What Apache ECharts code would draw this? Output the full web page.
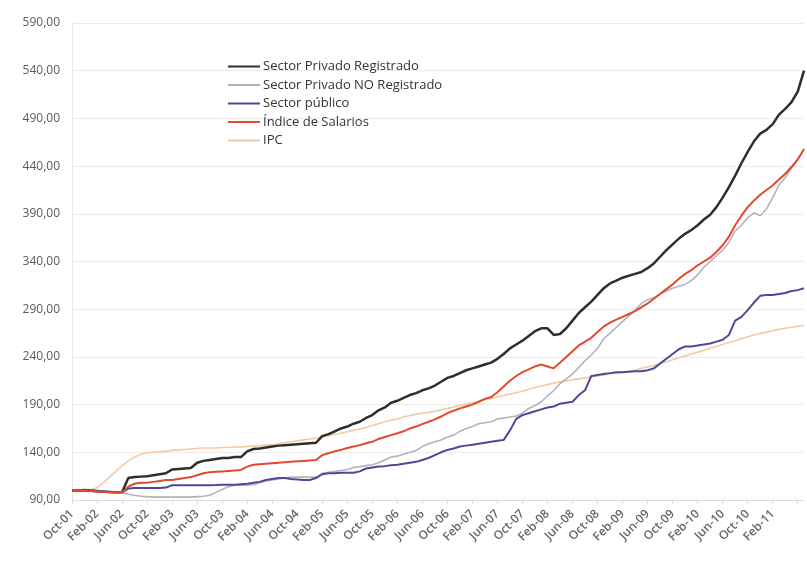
<!DOCTYPE html>
<html>
<head>
<meta charset="utf-8">
<script src="https://cdn.jsdelivr.net/npm/echarts@6/dist/echarts.min.js"></script>
<style>
  html, body { margin: 0; padding: 0; background: #fff; }
  #chart { width: 807px; height: 561px; }
</style>
</head>
<body>
<div id="chart"></div>
<script>
// meses Oct-01 .. Jul-11
const monthNames = ['Jan', 'Feb', 'Mar', 'Apr', 'May', 'Jun', 'Jul', 'Aug', 'Sep', 'Oct', 'Nov', 'Dec'];
const categories = [];
for (let k = 0; k < 118; k++) {
  const m = (9 + k) % 12;
  const y = 1 + Math.floor((9 + k) / 12);
  categories.push(`${monthNames[m]}-${String(y).padStart(2, '0')}`);
}
const lastLabel = 'Feb-11';

const yTicks = [90, 140, 190, 240, 290, 340, 390, 440, 490, 540, 590];

const privadoRegistrado = [
  100, 100, 100.5, 100, 99.5, 99, 98.5, 98, 98, 113,
  114, 114.5, 115, 116, 117, 118, 122, 122.5, 123, 123.5,
  129, 131, 132, 133, 134, 134, 135, 135, 141, 143.5,
  144, 145, 146, 147, 147.5, 148, 148.5, 149, 149.5, 150,
  157, 159, 162, 165, 167, 170, 172, 176, 179, 184,
  187, 192, 194, 197, 200, 202, 205, 207, 210, 214,
  218, 220, 223, 226, 228, 230, 232, 234, 238, 243,
  249, 253, 257, 262, 267, 270, 270, 263, 264, 270,
  278, 286, 292, 298, 305, 312, 317, 320, 323, 325,
  327, 329, 333, 338, 345, 352, 358, 364, 369, 373,
  378, 384, 389, 397, 407, 418, 430, 443, 455, 466,
  474, 478, 484, 494, 500, 507, 518, 540,
];

const privadoNoRegistrado = [
  100, 100, 100, 99.5, 99, 99, 98.5, 98, 97.5, 96,
  95, 94, 93.5, 93, 93, 93, 93, 93, 93, 93,
  93.5, 94, 95, 98, 101, 104, 105.5, 105.5, 105.5, 106,
  108, 110, 111, 112, 113, 114, 114, 114, 114, 114,
  118, 119, 120, 121, 122, 124, 125, 126, 127, 129,
  132, 135, 136, 138, 140, 142, 146, 149, 151, 153,
  156, 158, 162, 165, 167, 170, 171, 172, 175, 176,
  177, 178, 181, 186, 189, 193, 199, 205, 212, 217,
  222, 229, 236, 242, 249, 259, 265, 271, 277, 283,
  289, 296, 300, 302, 306, 309, 312, 314, 316, 320,
  326, 334, 340, 346, 352, 360, 372, 378, 386, 391,
  388, 395, 407, 420, 428, 438, 447, 457,
];

const sectorPublico = [
  100, 100, 100, 99.5, 99, 99, 98.5, 98, 98, 102,
  102.5, 102.5, 102.5, 102.5, 102.5, 103, 105.5, 105.5, 105.5, 105.5,
  105.5, 105.5, 105.5, 105.7, 106, 106, 106, 106.5, 107, 108,
  109, 111, 112, 113, 113, 112, 111.5, 111, 111, 113,
  117, 118, 118, 118.5, 118.5, 118.5, 120, 123, 124, 125,
  125.5, 126.5, 127, 128, 129, 130, 132, 134, 137, 140,
  142.5, 144, 146, 147, 148, 149, 150, 151, 152, 153,
  163, 175, 179, 181, 183, 185, 187, 188, 191, 192,
  193, 200, 205, 220, 221, 222, 223, 224, 224, 224.5,
  225, 225, 226, 228, 233, 238, 243, 248, 251, 251,
  252, 253, 254, 256, 258, 263, 278, 282, 289, 297,
  304, 305, 305, 306, 307, 309, 310, 312,
];

const indiceSalarios = [
  100, 100, 100, 99.5, 99, 98.5, 98, 98, 98, 104,
  107, 108, 108, 109, 110, 111, 111, 112, 113, 114,
  116, 118, 119, 119.5, 120, 120.5, 121, 121.5, 125, 127,
  127.5, 128, 128.5, 129, 129.5, 130, 130.5, 131, 131.5, 132,
  137, 139, 141, 142.5, 144.5, 146, 147.5, 149.5, 151, 154,
  156, 158, 160, 162, 165, 167, 169.5, 172, 174.5, 177.5,
  181, 183.5, 186, 188, 190, 193, 196, 198, 203, 209,
  215, 220, 224, 227, 230, 232, 230, 228, 234, 240,
  246, 252, 256, 260, 266, 272, 276, 279, 282, 285,
  288, 292, 296, 301, 306, 311, 316, 322, 327, 331,
  336, 340, 344, 350, 357, 366, 378, 388, 397, 404,
  410, 415, 420, 426, 432, 439, 447, 458,
];

const ipc = [
  100, 100, 100, 100.5, 103, 108, 114, 120, 126, 131,
  135, 138, 139.5, 140, 140.5, 141, 142, 142.5, 143, 143.5,
  144, 144.5, 144.5, 144.5, 145, 145, 145.5, 145.5, 146, 146.5,
  147, 147.5, 148, 149, 150, 151, 152, 153, 154, 155,
  156, 157.5, 159, 160, 161.5, 163, 164.5, 166, 168, 170,
  172, 173.5, 175, 177, 178.5, 180, 181, 182, 183, 184.5,
  186, 187.5, 189, 190.5, 192, 193.5, 195, 196.5, 198, 199.5,
  201, 202.5, 204, 206, 208, 209.5, 211, 212.5, 214, 215,
  216, 217, 218, 219, 220, 221, 222, 223, 224, 225,
  226.5, 228, 229.5, 231, 233, 235, 237, 239, 241, 243,
  245, 247, 249, 251, 253, 255, 257, 259, 261, 263,
  264.5, 266, 267.5, 269, 270, 271, 272, 273,
];

const seriesDefs = [
  { name: 'Sector Privado Registrado', data: privadoRegistrado, color: '#2b302b', width: 2.5 },
  { name: 'Sector Privado NO Registrado', data: privadoNoRegistrado, color: '#b3b3b9', width: 1.6 },
  { name: 'Sector público', data: sectorPublico, color: '#4c4a98', width: 2 },
  { name: 'Índice de Salarios', data: indiceSalarios, color: '#e2492f', width: 2 },
  { name: 'IPC', data: ipc, color: '#f6c9a2', width: 1.6 },
];

const lastLabelIdx = categories.indexOf(lastLabel);
const showLabel = (idx) => idx % 4 === 0 && idx <= lastLabelIdx;

const chart = echarts.init(document.getElementById('chart'));
chart.setOption({
  animation: false,
  backgroundColor: '#fff',
  grid: { left: 72, right: 3, top: 23, bottom: 61 },
  legend: {
    orient: 'vertical',
    left: 223,
    top: 55,
    itemWidth: 32,
    itemHeight: 2,
    itemGap: 5.5,
    icon: 'rect',
    textStyle: { color: '#333', fontSize: 13, fontFamily: 'Open Sans, sans-serif', padding: [0, 0, 0, -2] },
    data: seriesDefs.map((s) => s.name),
  },
  xAxis: {
    type: 'category',
    data: categories,
    boundaryGap: false,
    axisLine: { lineStyle: { color: '#dcdcdc' } },
    axisTick: { show: true, interval: (idx) => idx % 4 === 0, length: 4, lineStyle: { color: '#dcdcdc' } },
    axisLabel: {
      interval: (idx) => showLabel(idx),
      rotate: 45,
      margin: 12,
      color: '#666',
      fontSize: 12,
      fontWeight: 600,
      fontFamily: 'Open Sans, sans-serif',
    },
    splitLine: { show: false },
  },
  yAxis: {
    type: 'value',
    min: yTicks[0],
    max: yTicks[yTicks.length - 1],
    interval: 50,
    axisLine: { show: true, lineStyle: { color: '#e6e6e6' } },
    axisTick: { show: false },
    axisLabel: {
      margin: 12,
      color: '#5a5a5a',
      fontSize: 12,
      fontFamily: 'Open Sans, sans-serif',
      formatter: (v) => v.toFixed(2).replace('.', ','),
    },
    splitLine: { lineStyle: { color: '#ebebeb' } },
  },
  series: seriesDefs.map((s) => ({
    name: s.name,
    type: 'line',
    data: s.data,
    symbol: 'none',
    color: s.color,
    lineStyle: { color: s.color, width: s.width },
    z: s.name === 'IPC' ? 1 : 2,
  })),
});
</script>
</body>
</html>
